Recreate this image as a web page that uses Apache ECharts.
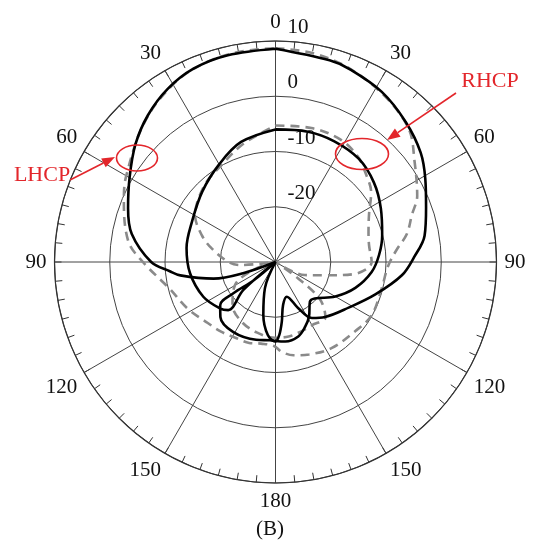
<!DOCTYPE html>
<html>
<head>
<meta charset="utf-8">
<script src="https://cdn.jsdelivr.net/npm/echarts@6/dist/echarts.min.js"></script>
<style>
  html, body { margin: 0; padding: 0; background: #fff; }
  #chart { width: 537px; height: 540px; }
</style>
</head>
<body>
<div id="chart"></div>
<script>
// Radial scale (dB) and its tick labels
const radiusTicks = [-30, -20, -10, 0, 10];
const radiusTickLabels = ['', '-20', '-10', '0', '10'];

// Angular ticks (degrees, clockwise from top) and their labels
const angleTicks = [0, 30, 60, 90, 120, 150, 180, 210, 240, 270, 300, 330];
const angleTickLabels = ['0', '30', '60', '90', '120', '150', '180', '150', '120', '90', '60', '30'];

// LHCP, measured (solid black, outer lobe)
const lhcpMeasAngle = [0, 15, 21, 32, 43, 53, 61, 70, 80, 88, 96, 108, 122, 138, 147, 154, 162, 170, 174, 177, 180, 186, 193, 202, 206, 247, 251, 255, 262, 265, 270, 281, 290, 300, 310, 319, 328, 337, 347, 360];
const lhcpMeasGain  = [8.6, 7.8, 7.4, 6.3, 4.6, 2.9, 1.0, -1.0, -2.6, -4.9, -7.0, -11.0, -14.4, -16.6, -17.9, -20.8, -23.4, -22.1, -19.1, -16.8, -15.6, -16.7, -20.2, -24.9, -30, -30, -23.8, -18.4, -12.6, -10.8, -7.5, -3.5, -1.6, 0.5, 3.1, 5.2, 6.9, 8.0, 8.4, 8.6];

// RHCP, measured (solid black, inner lobe)
const rhcpMeasAngle = [0, 14, 26, 39, 51, 63, 76, 86, 96, 108, 120, 133, 139, 148.5, 155.5, 163, 173, 180, 184, 194, 211, 225, 232, 233.4, 230, 228.5, 229, 224.5, 230.2, 244.3, 262.5, 279, 296, 314, 330, 344, 360];
const rhcpMeasGain  = [-6.0, -5.7, -5.7, -6.0, -7.1, -8.6, -10.1, -11.2, -12.5, -14.8, -17.5, -20.3, -20.5, -18.4, -17.1, -15.9, -15.5, -15.7, -15.8, -15.5, -15.2, -15.9, -17.3, -20.5, -24.8, -30, -22.3, -17.8, -16.9, -15.5, -14.4, -13.7, -13.2, -11.6, -9.6, -7.4, -6.0];

// LHCP, simulated (dashed grey)
const lhcpSimAngle = [0, 10, 20, 33, 45, 54, 65, 71, 78, 84, 92, 104, 119, 131, 147, 160, 169, 176, 181, 190, 198, 207, 218, 228, 242, 256, 270, 278, 292, 300, 317, 330, 340, 350, 360];
const lhcpSimGain  = [8.7, 8.4, 7.6, 6.0, 4.1, 1.1, -1.7, -3.9, -5.7, -7.9, -9.6, -10.2, -10.1, -10.9, -11.4, -12.2, -12.8, -13.7, -14.8, -15.0, -14.6, -14.5, -14.0, -13.5, -12.0, -10.2, -6.0, -3.1, -0.4, 1.2, 4.7, 7.1, 8.2, 8.6, 8.7];

// RHCP, simulated (dashed grey)
const rhcpSimAngle = [0, 15, 28, 38, 46, 54, 63, 72, 80, 90, 94, 99, 105, 114, 120, 126, 130, 138, 150, 160, 170, 180, 195, 210, 225, 240, 250, 257, 265, 270, 282, 290, 300, 317, 331, 345, 360];
const rhcpSimGain  = [-5.3, -4.9, -4.9, -5.8, -7.2, -8.6, -11.0, -12.3, -12.8, -12.6, -13.3, -15.8, -20.7, -24.2, -30, -25, -19.5, -16.5, -16.8, -16.6, -16.3, -16.3, -16.8, -17.6, -19.0, -21.5, -25.5, -30, -23.6, -21.5, -18.2, -15.8, -13.2, -11.1, -9.9, -7.8, -5.3];

const toPolar = (angles, gains) => angles.map((a, i) => [gains[i], a]);

const serif = "'Liberation Serif', 'Times New Roman', serif";
const red = '#e3262b';

function arrow(x1, y1, x2, y2) {
  const ang = Math.atan2(y2 - y1, x2 - x1);
  const len = 13, half = 5;
  const bx = x2 - len * Math.cos(ang), by = y2 - len * Math.sin(ang);
  const nx = -Math.sin(ang) * half, ny = Math.cos(ang) * half;
  return [
    { type: 'line', shape: { x1: x1, y1: y1, x2: bx, y2: by }, style: { stroke: red, lineWidth: 1.6 }, z: 20 },
    { type: 'polygon', shape: { points: [[x2, y2], [bx + nx, by + ny], [bx - nx, by - ny]] }, style: { fill: red }, z: 20 }
  ];
}

const chart = echarts.init(document.getElementById('chart'), null, { renderer: 'canvas' });

const lineBase = { type: 'line', coordinateSystem: 'polar', showSymbol: false, symbol: 'none', smooth: 0.35, animation: false };

chart.setOption({
  backgroundColor: '#fff',
  animation: false,
  polar: { center: [275.5, 262], radius: 221 },
  angleAxis: {
    type: 'value', min: 0, max: 360, interval: 30,
    startAngle: 90, clockwise: true,
    axisLine: { show: true, lineStyle: { color: '#333', width: 1.2 } },
    axisTick: { show: true, inside: true, length: 7, lineStyle: { color: '#333', width: 1 } },
    minorTick: { show: true, splitNumber: 6, length: 7, lineStyle: { color: '#333', width: 1 } },
    splitLine: { show: true, lineStyle: { color: '#444', width: 1 } },
    axisLabel: {
      margin: 8, fontFamily: serif, fontSize: 21, color: '#111',
      formatter: v => { const i = angleTicks.indexOf(v); return i >= 0 ? angleTickLabels[i] : ''; }
    }
  },
  radiusAxis: {
    type: 'value', min: -30, max: 10, interval: 10,
    axisLine: { show: false }, axisTick: { show: false },
    splitLine: { show: true, lineStyle: { color: '#444', width: 1 } },
    axisLabel: {
      margin: -12, align: 'left', verticalAlign: 'bottom', padding: [0, 0, 3, 0],
      fontFamily: serif, fontSize: 21, color: '#111',
      formatter: v => { const i = radiusTicks.indexOf(v); return i >= 0 ? radiusTickLabels[i] : ''; }
    }
  },
  series: [
    Object.assign({}, lineBase, { name: 'LHCP sim', data: toPolar(lhcpSimAngle, lhcpSimGain), lineStyle: { color: '#8a8a8a', width: 2.6, type: [9, 6] }, z: 3 }),
    Object.assign({}, lineBase, { name: 'RHCP sim', data: toPolar(rhcpSimAngle, rhcpSimGain), lineStyle: { color: '#8a8a8a', width: 2.6, type: [9, 6] }, z: 3 }),
    Object.assign({}, lineBase, { name: 'LHCP meas', data: toPolar(lhcpMeasAngle, lhcpMeasGain), lineStyle: { color: '#000', width: 2.6 }, z: 4 }),
    Object.assign({}, lineBase, { name: 'RHCP meas', data: toPolar(rhcpMeasAngle, rhcpMeasGain), lineStyle: { color: '#000', width: 2.6 }, z: 4 })
  ],
  graphic: [
    { type: 'ellipse', shape: { cx: 137, cy: 158, rx: 20.5, ry: 13 }, style: { fill: 'none', stroke: red, lineWidth: 1.6 }, z: 20 },
    { type: 'ellipse', shape: { cx: 362, cy: 154, rx: 26.5, ry: 15.5 }, style: { fill: 'none', stroke: red, lineWidth: 1.6 }, z: 20 },
    ...arrow(70, 180, 115, 157),
    ...arrow(456, 93, 387, 140),
    { type: 'text', x: 42, y: 175, style: { text: 'LHCP', fill: red, font: '22px ' + serif, textAlign: 'center', textVerticalAlign: 'middle' }, z: 20 },
    { type: 'text', x: 490, y: 81, style: { text: 'RHCP', fill: red, font: '22px ' + serif, textAlign: 'center', textVerticalAlign: 'middle' }, z: 20 },
    { type: 'text', x: 270, y: 529, style: { text: '(B)', fill: '#111', font: '21px ' + serif, textAlign: 'center', textVerticalAlign: 'middle' }, z: 20 }
  ]
});
</script>
</body>
</html>
